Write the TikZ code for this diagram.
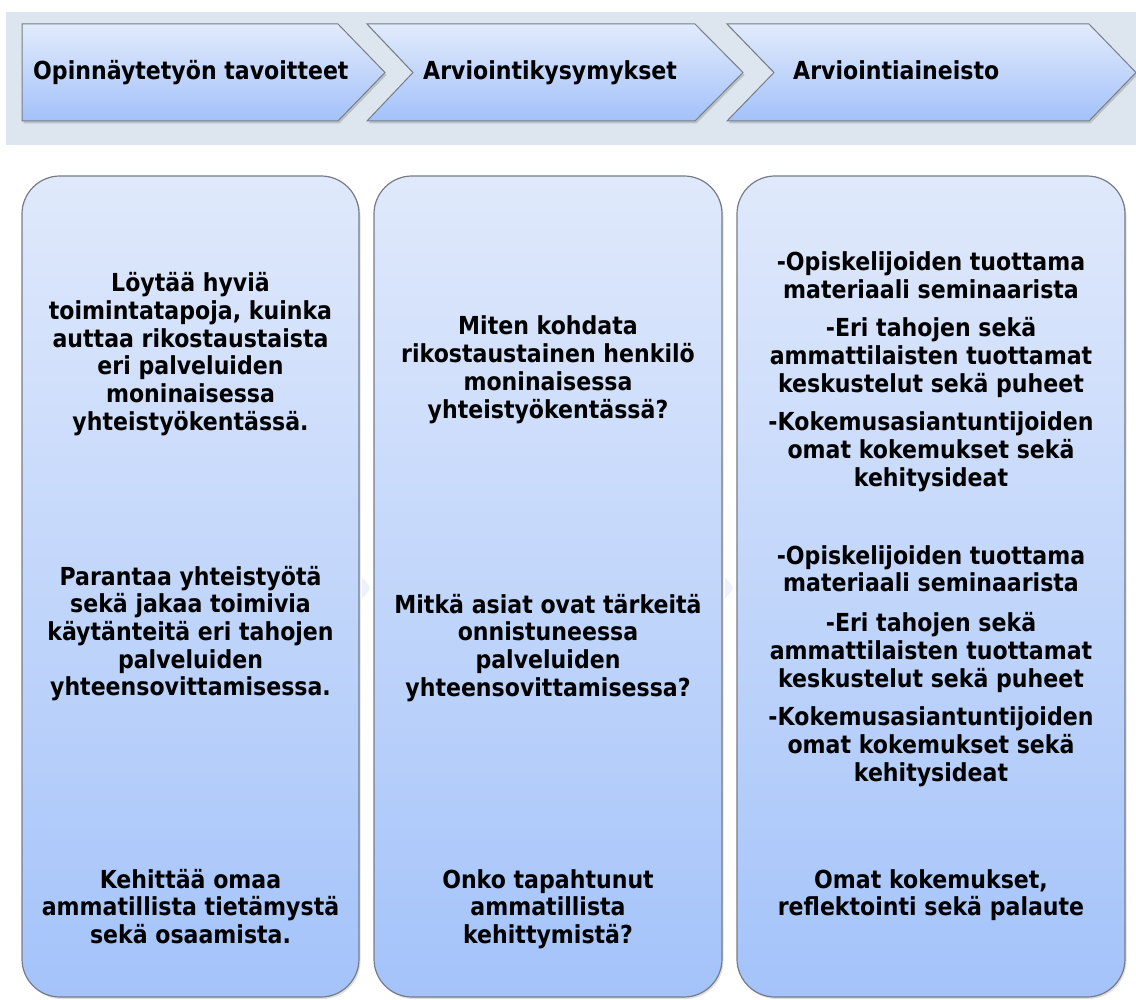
\documentclass[tikz,border=0pt]{standalone}
\usepackage{fontspec}
\setmainfont{DejaVu Sans}[FakeStretch=0.89]
\usetikzlibrary{shadows}
\definecolor{bannerbg}{RGB}{221,229,238}
\definecolor{chevtop}{RGB}{226,235,252}
\definecolor{chevbot}{RGB}{163,193,250}
\definecolor{chevline}{RGB}{118,126,136}
\definecolor{coltop}{RGB}{224,233,251}
\definecolor{colbot}{RGB}{164,195,250}
\definecolor{colline}{RGB}{118,124,134}
\definecolor{faint}{RGB}{236,241,250}
\newcommand\stack[1]{\begin{tabular}[t]{@{}c@{}}#1\end{tabular}}
\begin{document}
\begin{tikzpicture}[x=1pt,y=-1pt,
  chev/.style={draw=chevline, line width=1pt, top color=chevtop, bottom color=chevbot,
    drop shadow={shadow xshift=1.5pt, shadow yshift=-2.5pt, opacity=0.35}},
  colbox/.style={draw=colline, line width=1.2pt, rounded corners=38pt, top color=coltop, bottom color=colbot,
    drop shadow={shadow xshift=1.5pt, shadow yshift=-2pt, opacity=0.25}},
  txt/.style={font=\fontsize{24.8}{27.7}\selectfont\bfseries, inner sep=0pt, anchor=base},
  hd/.style={txt, anchor=base west},
  faintarrow/.style={fill=faint, draw=none}]
\useasboundingbox (0,0) rectangle (1136,1000);
% banner
\fill[bannerbg] (6,12) rectangle (1136,145);
\path[chev] (22,24) -- (338,24) -- (385,72.5) -- (338,121) -- (22,121) -- cycle;
\path[chev] (367,24) -- (695,24) -- (743,72.5) -- (695,121) -- (367,121) -- (413,72.5) -- cycle;
\path[chev] (727,24) -- (1089,24) -- (1136,72.5) -- (1089,121) -- (727,121) -- (774,72.5) -- cycle;
\node[hd] (h1) at (33,80) {Opinnäytetyön tavoitteet};
\node[hd] (h2) at (423,80) {Arviointikysymykset};
\node[hd] (h3) at (793,80) {Arviointiaineisto};
% columns
\path[colbox] (22,176) rectangle (359,997);
\path[colbox] (374,176) rectangle (722,997);
\path[colbox] (737,176) rectangle (1125,997);
% faint arrows between columns
\path[faintarrow, rounded corners=2pt] (362,577) -- (371,588) -- (362,599) -- cycle;
\path[faintarrow, rounded corners=2pt] (725,577) -- (734,588) -- (725,599) -- cycle;
% column 1
\node[txt] (a1) at (190.5,291.7) {\stack{Löytää hyviä\\toimintatapoja, kuinka\\auttaa rikostaustaista\\eri palveluiden\\moninaisessa\\yhteistyökentässä.}};
\node[txt] (a2) at (190.5,585) {\stack{Parantaa yhteistyötä\\sekä jakaa toimivia\\käytänteitä eri tahojen\\palveluiden\\yhteensovittamisessa.}};
\node[txt] (a3) at (190.5,888) {\stack{Kehittää omaa\\ammatillista tietämystä\\sekä osaamista.}};
% column 2
\node[txt] (b1) at (548,335) {\stack{Miten kohdata\\rikostaustainen henkilö\\moninaisessa\\yhteistyökentässä?}};
\node[txt] (b2) at (548,613) {\stack{Mitkä asiat ovat tärkeitä\\onnistuneessa\\palveluiden\\yhteensovittamisessa?}};
\node[txt] (b3) at (548,888) {\stack{Onko tapahtunut\\ammatillista\\kehittymistä?}};
% column 3
\node[txt] (c1) at (931,271) {\stack{-Opiskelijoiden tuottama\\materiaali seminaarista}};
\node[txt] (c2) at (931,336.7) {\stack{-Eri tahojen sekä\\ammattilaisten tuottamat\\keskustelut sekä puheet}};
\node[txt] (c3) at (931,430.7) {\stack{-Kokemusasiantuntijoiden\\omat kokemukset sekä\\kehitysideat}};
\node[txt] (c4) at (931,564) {\stack{-Opiskelijoiden tuottama\\materiaali seminaarista}};
\node[txt] (c5) at (931,631.7) {\stack{-Eri tahojen sekä\\ammattilaisten tuottamat\\keskustelut sekä puheet}};
\node[txt] (c6) at (931,725.7) {\stack{-Kokemusasiantuntijoiden\\omat kokemukset sekä\\kehitysideat}};
\node[txt] (c7) at (931,888) {\stack{Omat kokemukset,\\reflektointi sekä palaute}};
\end{tikzpicture}
\end{document}
